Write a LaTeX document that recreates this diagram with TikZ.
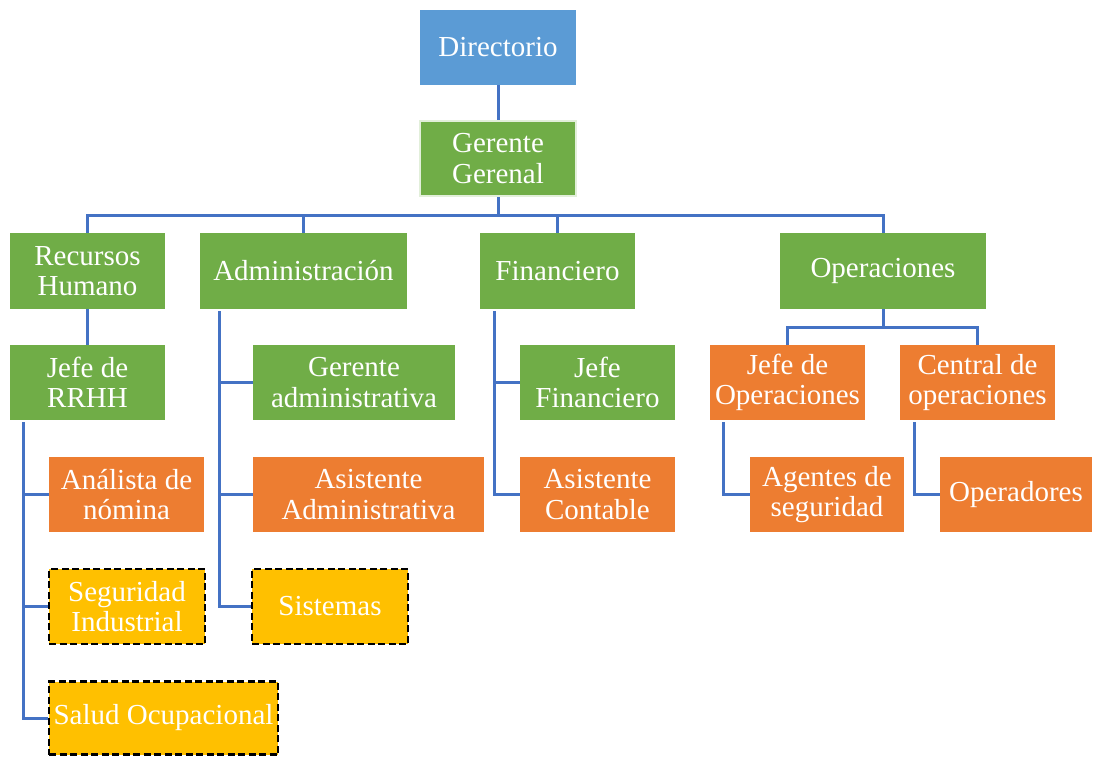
\documentclass[tikz,border=0pt]{standalone}
\usepackage{fontspec}
\setmainfont{Liberation Serif}
\usepackage{tikz}

\definecolor{dirblue}{HTML}{5B9BD5}
\definecolor{mgreen}{HTML}{70AD47}
\definecolor{morange}{HTML}{ED7D31}
\definecolor{mgold}{HTML}{FFC000}
\definecolor{lineblue}{HTML}{4472C4}
\definecolor{paleg}{HTML}{E2EFDA}

\begin{document}
\begin{tikzpicture}[x=1pt,y=-1pt,
  box/.style={minimum height=75pt,inner sep=1pt,align=center,text=white,
    font=\fontsize{29}{30.5}\selectfont},
  grn/.style={box,fill=mgreen},
  org/.style={box,fill=morange},
  gold/.style={box,fill=mgold,draw=black,line width=2.4pt,dash pattern=on 7pt off 3.5pt},
  conn/.style={draw=lineblue,line width=3pt}]
\useasboundingbox (0,0) rectangle (1093,756);

% NODES
% top
\node[box,fill=dirblue,minimum width=156pt] (dir) at (498,47.5) {Directorio};
\node[grn,draw=paleg,line width=2pt,minimum width=156pt,minimum height=75pt] (ger) at (498,158.5) {Gerente\\Gerenal};
% 1st row
\node[grn,minimum width=155pt,minimum height=76pt] (rh) at (87.5,271) {Recursos\\Humano};
\node[grn,minimum width=207pt,minimum height=76pt] (adm) at (303.5,271) {Administración};
\node[grn,minimum width=155pt,minimum height=76pt] (fin) at (557.5,271) {Financiero};
\node[grn,minimum width=206pt,minimum height=76pt] (ope) at (883,271) {Operaciones};
% 2nd row
\node[grn,minimum width=155pt] (jrh) at (87.5,382.5) {Jefe de\\RRHH};
\node[grn,minimum width=202pt] (gad) at (354,382.5) {Gerente\\administrativa};
\node[grn,minimum width=155pt] (jfi) at (597.5,382.5) {Jefe\\Financiero};
\node[org,minimum width=155pt] (jop) at (787.5,382.5) {Jefe de\\Operaciones};
\node[org,minimum width=155pt] (cop) at (977.5,382.5) {Central de\\operaciones};
% 3rd row
\node[org,minimum width=155pt] (ana) at (126.5,494.5) {Análista de\\nómina};
\node[org,minimum width=231pt] (aad) at (368.5,494.5) {Asistente\\Administrativa};
\node[org,minimum width=155pt] (aco) at (597.5,494.5) {Asistente\\Contable};
\node[org,minimum width=154pt] (age) at (827,494.5) {Agentes de\\seguridad};
\node[org,minimum width=152pt] (opr) at (1016,494.5) {Operadores};
% 4th row
\node[gold,minimum width=156pt] (seg) at (127,606.5) {Seguridad\\Industrial};
\node[gold,minimum width=156pt] (sis) at (330,606.5) {Sistemas};
\node[gold,minimum width=229pt,minimum height=73pt] (sal) at (163.5,718) {Salud Ocupacional};

% LINES
\draw[conn] (dir.south) -- (ger.north);
\foreach \c in {rh,adm,fin,ope}
  \draw[conn] (ger.south) -- +(0,18) -| (\c.north);
\draw[conn] (rh.south) -- (jrh.north);
\foreach \c in {jop,cop}
  \draw[conn] (ope.south) -- +(0,18) -| (\c.north);
% side branches
\foreach \c in {ana,seg,sal}
  \draw[conn] (jrh.south west) ++(14,2) |- (\c.west);
\foreach \c in {gad,aad,sis}
  \draw[conn] (adm.south west) ++(20,2) |- (\c.west);
\foreach \c in {jfi,aco}
  \draw[conn] (fin.south west) ++(15,2) |- (\c.west);
\draw[conn] (jop.south west) ++(14,2) |- (age.west);
\draw[conn] (cop.south west) ++(15,2) |- (opr.west);

\end{tikzpicture}
\end{document}
